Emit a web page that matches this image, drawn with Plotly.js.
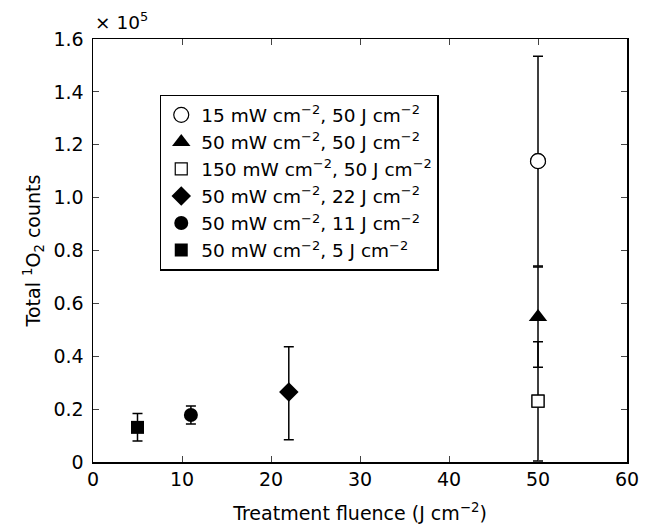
<!DOCTYPE html>
<html>
<head>
<meta charset="utf-8">
<script src="https://cdn.plot.ly/plotly-3.0.1.min.js"></script>
<style>html,body{margin:0;padding:0;background:#fff;}</style>
</head>
<body>
<div id="chart" style="width:648px;height:526px;"></div>
<script>
// Series (legend order)
const seriesNames = [
  "15 mW cm<sup>\u22122</sup>, 50 J cm<sup>\u22122</sup>",
  "50 mW cm<sup>\u22122</sup>, 50 J cm<sup>\u22122</sup>",
  "150 mW cm<sup>\u22122</sup>, 50 J cm<sup>\u22122</sup>",
  "50 mW cm<sup>\u22122</sup>, 22 J cm<sup>\u22122</sup>",
  "50 mW cm<sup>\u22122</sup>, 11 J cm<sup>\u22122</sup>",
  "50 mW cm<sup>\u22122</sup>, 5 J cm<sup>\u22122</sup>"
];
const fluence = [50, 50, 50, 22, 11, 5];
const counts = [113800, 54800, 23000, 26500, 17800, 13100];
const errPlus = [39700, 19000, 22500, 17100, 3400, 5200];
const errMinus = [39700, 19000, 22600, 18100, 3400, 5200];

const xTickVals = [0, 10, 20, 30, 40, 50, 60];
const yTickVals = [0, 20000, 40000, 60000, 80000, 100000, 120000, 140000, 160000];
const yTickText = ["0", "0.2", "0.4", "0.6", "0.8", "1.0", "1.2", "1.4", "1.6"];

const symbols = ["circle-open", "triangle-up", "square-open", "diamond", "circle", "square"];
const sizes = [15, 16, 12, 15, 14, 13];

const data = seriesNames.map((name, i) => ({
  type: "scatter",
  mode: "markers",
  name: name,
  x: [fluence[i]],
  y: [counts[i]],
  error_y: {type: "data", symmetric: false, array: [errPlus[i]], arrayminus: [errMinus[i]],
            color: "#000", thickness: 1.5, width: 5},
  marker: {symbol: symbols[i], size: sizes[i], color: "#000",
           line: {color: "#000", width: symbols[i].includes("open") ? 1.2 : 0}},
  cliponaxis: false
}));
// white-filled open markers drawn above the error bars
for (let i = 0; i < 6; i++) {
  if (symbols[i].includes("open")) {
    data.push({type: "scatter", mode: "markers", x: [fluence[i]], y: [counts[i]], showlegend: false,
      hoverinfo: "skip", marker: {symbol: symbols[i].replace("-open", ""), size: sizes[i], color: "#fff",
      line: {color: "#000", width: 1.2}}});
  }
}

const fam = "DejaVu Sans, sans-serif";
const font = {family: fam, size: 19, color: "#000"};

const layout = {
  width: 648, height: 526,
  margin: {l: 93, r: 21, t: 39, b: 64},
  paper_bgcolor: "#fff", plot_bgcolor: "#fff",
  font: font,
  showlegend: true,
  legend: {x: 0.125, y: 0.868, xanchor: "left", yanchor: "top",
           bordercolor: "#000", borderwidth: 1.5, bgcolor: "#fff",
           font: {family: fam, size: 18.5, color: "#000"}, itemwidth: 30},
  xaxis: {range: [0, 60], tickvals: xTickVals, ticks: "inside", ticklen: 6,
          showline: true, linecolor: "#000", linewidth: 1.5, mirror: "ticks", showgrid: false,
          zeroline: false, tickfont: font,
          title: {text: "Treatment fluence (J cm<sup>\u22122</sup>)", font: font, standoff: 17}},
  yaxis: {range: [0, 160000], tickvals: yTickVals, ticktext: yTickText, ticks: "inside", ticklen: 6,
          showline: true, linecolor: "#000", linewidth: 1.5, mirror: "ticks", showgrid: false,
          zeroline: false, tickfont: font, ticklabelstandoff: 4,
          title: {text: "Total <sup>1</sup>O<sub>2</sub> counts", font: font, standoff: 8}},
  annotations: [{xref: "paper", yref: "paper", x: 0, y: 1, xanchor: "left", yanchor: "bottom",
                 yshift: 4, showarrow: false, text: "\u00d7 10<sup>5</sup>", font: {family: fam, size: 18.5, color: "#000"}}]
};

Plotly.newPlot("chart", data, layout, {displayModeBar: false, staticPlot: true});
</script>
</body>
</html>
